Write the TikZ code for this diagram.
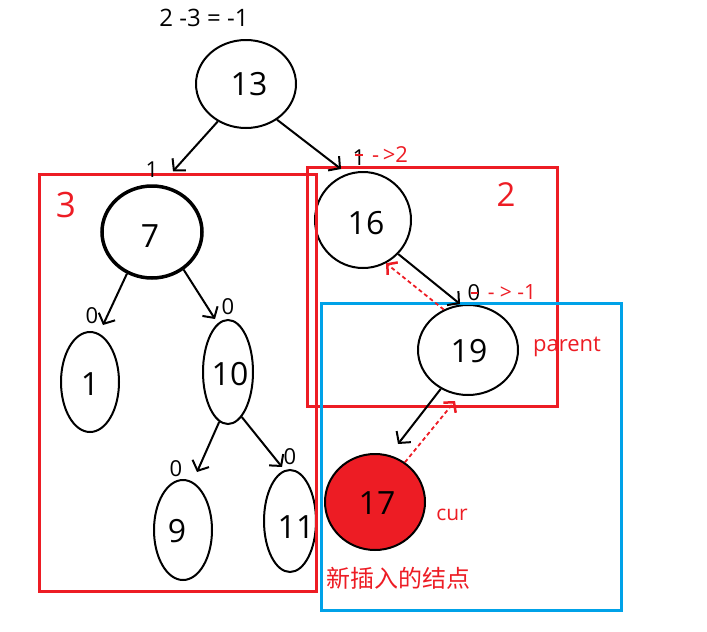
\documentclass[tikz,border=0pt]{standalone}
\usepackage{fontspec}
\setmainfont{Open Sans}
\newfontfamily\cjk{Noto Sans CJK SC}
\usetikzlibrary{shapes.geometric,arrows.meta}
\definecolor{pred}{RGB}{237,28,36}
\definecolor{pblue}{RGB}{0,162,232}
\newcommand{\myfs}[1]{\fontsize{#1}{#1}\selectfont}
\begin{document}
\begin{tikzpicture}[x=1pt,y=-1pt,
  nd/.style={ellipse, draw=black, line width=2pt, inner sep=0pt},
  num/.style={font=\myfs{32}, inner sep=0pt},
  bal/.style={font=\myfs{22}, inner sep=0pt},
  rtxt/.style={text=pred, inner sep=0pt},
  strike/.style={draw=pred, line width=1.5pt},
  edge/.style={line width=2pt, -{Straight Barb[length=8pt,width=18pt,line width=2pt]}},
  redge/.style={pred, line width=1.8pt, dash pattern=on 4pt off 3pt, -{Straight Barb[length=7pt,width=16pt,line width=2.5pt]}},
  rbox/.style={draw=pred, line width=3pt},
  bbox/.style={draw=pblue, line width=3pt}]
\useasboundingbox (0,0) rectangle (707,632);
% nodes
\node[nd, minimum width=100pt, minimum height=88pt] (n13) at (246,84) {};
\node[nd, line width=3.5pt, minimum width=100pt, minimum height=92pt] (n7) at (152,232) {};
\node[nd, minimum width=96pt, minimum height=96pt] (n16) at (363,220) {};
\node[nd, minimum width=100pt, minimum height=90pt] (n19) at (468,350) {};
\node[nd, minimum width=58pt, minimum height=100pt] (n1) at (90,382) {};
\node[nd, minimum width=50pt, minimum height=104pt] (n10) at (228,372) {};
\node[nd, minimum width=58pt, minimum height=100pt] (n9) at (183,530) {};
\node[nd, minimum width=52pt, minimum height=102pt] (n11) at (290,521) {};
\node[nd, fill=pred, minimum width=100pt, minimum height=96pt] (n17) at (375,502) {};
\node[num] (t13) at (249,84) {13};
\node[num] (t7) at (150,236) {7};
\node[num] (t16) at (366,223) {16};
\node[num] (t19) at (469,351) {19};
\node[num] (t1) at (90,384) {1};
\node[num] (t10) at (230,374) {10};
\node[num] (t9) at (177,531) {9};
\node[num] (t11) at (296,527) {11};
\node[num] (t17) at (377,503) {17};
% boxes
\draw[rbox] (39,174) rectangle (316,591);
\draw[rbox] (307,167) rectangle (557,406);
\draw[bbox] (321,303) rectangle (621,610);
% edges
\draw[edge] (n13.233) -- ([xshift=21pt,yshift=13pt]n7.north);
\draw[edge] (n13.311) -- ([xshift=-22pt,yshift=2pt]n16.north);
\draw[edge] (n7.239) -- ([xshift=13pt,yshift=6pt]n1.north);
\draw[edge] (n7.310) -- ([xshift=-13pt]n10.north);
\draw[edge] (n10.260) -- ([xshift=14pt,yshift=7pt]n9.north);
\draw[edge] (n10.287) -- ([xshift=-8pt,yshift=2pt]n11.north);
\draw[edge] (n16.316) -- ([xshift=-8pt]n19.north);
\draw[edge] (n19.235) -- ([xshift=23pt,yshift=9pt]n17.north);
\draw[redge] (n19.121) -- (n16.298);
\draw[redge] (n17.53) -- ([xshift=-13pt,yshift=-5pt]n19.south);
% labels
\node[font=\myfs{24}, inner sep=0pt] (eq) at (204,18) {2 -3 = -1};
\node[rtxt, font=\myfs{35}] (L3) at (66,205) {3};
\node[rtxt, font=\myfs{33}] (L2) at (506,195) {2};
\node[bal] (b7) at (152,170) {1};
\node[bal] (b16) at (359,158) {1};
\draw[strike] ([xshift=-4pt,yshift=3pt]b16.center) -- ([xshift=4pt,yshift=3pt]b16.center);
\node[rtxt, font=\myfs{22}] (r16) at (390,155) {-\,>2};
\node[bal] (b19) at (474,293) {0};
\draw[strike] ([xshift=-3pt]b19.center) -- ([xshift=4pt]b19.center);
\node[rtxt, font=\myfs{21}] (r19) at (512,292) {- > -1};
\node[bal] (b1) at (92,316) {0};
\node[bal] (b10) at (228,307) {0};
\node[bal] (b9) at (176,469) {0};
\node[bal] (b11) at (290,457) {0};
\node[rtxt, font=\myfs{22}] (lp) at (567,347) {parent};
\node[rtxt, font=\myfs{21}] (lc) at (452,515) {cur};
\node[rtxt, font=\cjk\myfs{24}] (ln) at (398,578) {新插入的结点};
\end{tikzpicture}
\end{document}
